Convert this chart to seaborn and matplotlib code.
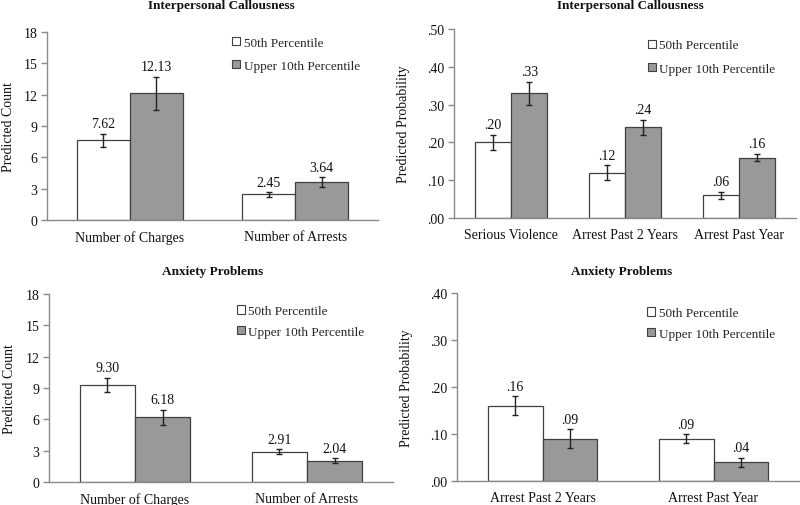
import matplotlib
matplotlib.use("Agg")
import matplotlib.pyplot as plt
import seaborn as sns
import pandas as pd
from matplotlib.patches import Patch
from matplotlib.ticker import FuncFormatter

# ---------------- data ----------------
groups = ["50th Percentile", "Upper 10th Percentile"]

tl_title = "Interpersonal Callousness"
tl_cats = ["Number of Charges", "Number of Arrests"]
tl_p50 = [7.62, 2.45]
tl_p90 = [12.13, 3.64]
tl_e50 = [0.65, 0.20]
tl_e90 = [1.60, 0.45]
tl_ticks = [0, 3, 6, 9, 12, 15, 18]

tr_title = "Interpersonal Callousness"
tr_cats = ["Serious Violence", "Arrest Past 2 Years", "Arrest Past Year"]
tr_p50 = [0.20, 0.12, 0.06]
tr_p90 = [0.33, 0.24, 0.16]
tr_e50 = [0.02, 0.02, 0.01]
tr_e90 = [0.03, 0.02, 0.01]
tr_ticks = [0.0, 0.1, 0.2, 0.3, 0.4, 0.5]

bl_title = "Anxiety Problems"
bl_cats = ["Number of Charges", "Number of Arrests"]
bl_p50 = [9.30, 2.91]
bl_p90 = [6.18, 2.04]
bl_e50 = [0.70, 0.22]
bl_e90 = [0.75, 0.22]
bl_ticks = [0, 3, 6, 9, 12, 15, 18]

br_title = "Anxiety Problems"
br_cats = ["Arrest Past 2 Years", "Arrest Past Year"]
br_p50 = [0.16, 0.09]
br_p90 = [0.09, 0.04]
br_e50 = [0.02, 0.01]
br_e90 = [0.02, 0.01]
br_ticks = [0.0, 0.1, 0.2, 0.3, 0.4]

# ---------------- style ----------------
sns.set_theme(style="white")
plt.rcParams["font.family"] = ["Liberation Serif", "DejaVu Serif"]
plt.rcParams["font.size"] = 10

W, H = 800, 506
fig = plt.figure(figsize=(W / 100, H / 100), dpi=100)

palette = {groups[0]: "#ffffff", groups[1]: "#999999"}
edge = "#404040"
spine_c = "#8a8a8a"


def px_axes(l, r, t, b):
    return fig.add_axes([l / W, (H - b) / H, (r - l) / W, (b - t) / H])


def panel(ax, title, cats, p50, p90, e50, e90, ticks, ylabel, prob,
          title_x, title_y, leg_x, leg_y, ylab_x, lspace):
    df = pd.DataFrame({
        "Outcome": cats * 2,
        "Group": [groups[0]] * len(cats) + [groups[1]] * len(cats),
        "Value": list(p50) + list(p90),
    })
    errs = list(e50) + list(e90)
    sns.barplot(data=df, x="Outcome", y="Value", hue="Group", palette=palette,
                order=cats, hue_order=groups, width=0.64, gap=0,
                edgecolor=edge, linewidth=0.9, errorbar=None, legend=False,
                ax=ax, zorder=2)
    bars = [p for p in ax.patches]
    xs = [p.get_x() + p.get_width() / 2 for p in bars]
    hs = [p.get_height() for p in bars]
    ax.errorbar(xs, hs, yerr=errs, fmt="none", ecolor="#222222",
                elinewidth=1.0, capsize=2.4, capthick=1.0, zorder=3)
    for x, h, e in zip(xs, hs, errs):
        lab = f"{h:.2f}"
        if prob:
            lab = lab.lstrip("0")
        ax.annotate(lab, (x, h + e), xytext=(0, 2.5), textcoords="offset points",
                    ha="center", va="bottom", fontsize=10, color="#111111")

    ax.set_xlim(-0.5, len(cats) - 0.5)
    ax.set_ylim(ticks[0], ticks[-1])
    ax.set_yticks(ticks)
    if prob:
        ax.yaxis.set_major_formatter(FuncFormatter(lambda v, p: f"{v:.2f}".lstrip("0")))
    ax.set_xlabel("")
    ax.set_ylabel(ylabel, fontsize=10, color="#111111", va="center")
    ax.yaxis.set_label_coords(ylab_x, 0.5)
    ax.tick_params(axis="x", length=0, pad=7, labelsize=10, colors="#111111")
    ax.tick_params(axis="y", length=4, width=1, color=spine_c, direction="out",
                   pad=3, labelsize=10, labelcolor="#111111", left=True)
    for s in ["top", "right"]:
        ax.spines[s].set_visible(False)
    for s in ["left", "bottom"]:
        ax.spines[s].set_color(spine_c)
        ax.spines[s].set_linewidth(1.0)
    ax.text(title_x, title_y, title, transform=ax.transAxes, ha="center",
            va="center", fontsize=9.5, fontweight="bold", color="#111111")
    handles = [Patch(facecolor=palette[g], edgecolor=edge, linewidth=0.8) for g in groups]
    ax.legend(handles, groups, loc="upper left", bbox_to_anchor=(leg_x, leg_y),
              frameon=False, borderpad=0, borderaxespad=0, handlelength=0.6,
              handleheight=0.6, handletextpad=0.25, labelspacing=lspace,
              fontsize=9.5)


ax1 = px_axes(47, 378, 33, 221)
panel(ax1, tl_title, tl_cats, tl_p50, tl_p90, tl_e50, tl_e90, tl_ticks,
      "Predicted Count", False, 0.526, 1.144, 0.56, 0.975, -0.115, 0.85)

ax2 = px_axes(454, 796, 30, 219)
panel(ax2, tr_title, tr_cats, tr_p50, tr_p90, tr_e50, tr_e90, tr_ticks,
      "Predicted Probability", True, 0.515, 1.127, 0.567, 0.945, -0.149, 0.85)

ax3 = px_axes(49, 393, 295, 483)
panel(ax3, bl_title, bl_cats, bl_p50, bl_p90, bl_e50, bl_e90, bl_ticks,
      "Predicted Count", False, 0.477, 1.122, 0.547, 0.94, -0.116, 0.65)

ax4 = px_axes(457, 799, 294, 482)
panel(ax4, br_title, br_cats, br_p50, br_p90, br_e50, br_e90, br_ticks,
      "Predicted Probability", True, 0.481, 1.117, 0.557, 0.925, -0.149, 0.65)

fig.savefig("out.png", dpi=100)
